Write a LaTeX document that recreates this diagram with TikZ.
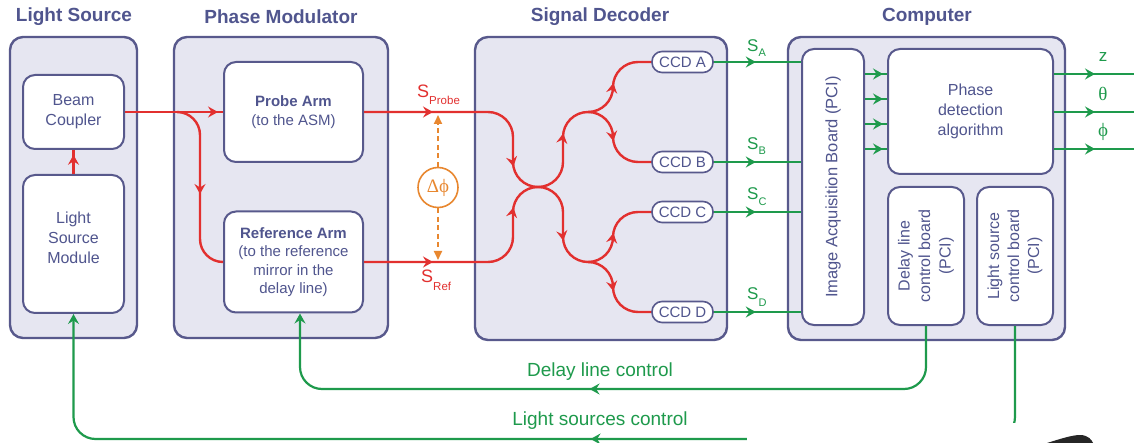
\documentclass[tikz,border=0pt]{standalone}
\usepackage{fontspec}
\setmainfont{Liberation Sans}
\newfontfamily\grserif{Liberation Serif}
\usetikzlibrary{arrows.meta,decorations.markings}
\definecolor{frame}{HTML}{58598C}
\definecolor{panel}{HTML}{E6E6F1}
\definecolor{txt}{HTML}{50558E}
\definecolor{sig}{HTML}{E2302F}
\definecolor{ctl}{HTML}{1E9A4C}
\definecolor{phs}{HTML}{E8872F}
\newcommand\setfs[2]{\fontsize{#1}{#2}\selectfont}
\tikzset{
  panelbox/.style={draw=frame, fill=panel, line width=2.4pt, rounded corners=13pt, inner sep=0pt},
  innerbox/.style={draw=frame, fill=white, line width=2pt, rounded corners=12pt, inner sep=0pt, text=txt, align=center},
  ccdbox/.style={draw=frame, fill=white, line width=1.6pt, rounded corners=10pt, inner sep=0pt, minimum width=61pt, minimum height=21pt, text=txt, font=\setfs{15}{15}},
  titletext/.style={text=txt, font=\bfseries\setfs{19}{19}},
  redline/.style={color=sig, line width=2.4pt, rounded corners=25pt},
  greenline/.style={color=ctl, line width=2.4pt},
  ctlline/.style={color=ctl, line width=2.2pt, rounded corners=22pt},
  mytip/.tip={Stealth[length=10pt,width=11pt,inset=3.5pt]},
  mk/.style={postaction={decorate, sharp corners, decoration={markings, mark=at position #1 with {\arrow{mytip}}}}},
  mktwo/.style 2 args={postaction={decorate, sharp corners, decoration={markings, mark=at position #1 with {\arrow{mytip}}, mark=at position #2 with {\arrow{mytip}}}}},
  slabel/.style={inner sep=0pt, anchor=base west, font=\setfs{18}{18}},
}
\begin{document}
\begin{tikzpicture}[x=1pt, y=-1pt]
\path[use as bounding box, fill=white] (0,0) rectangle (1134,443);

% titles
\node[titletext] (tLS) at (74,17) {Light Source};
\node[titletext] (tPM) at (281,17) {Phase Modulator};
\node[titletext] (tSD) at (600,17) {Signal Decoder};
\node[titletext] (tC) at (927,17) {Computer};

% panels
\node[panelbox, minimum width=127pt, minimum height=301pt] (LS) at (73.5,187.5) {};
\node[panelbox, minimum width=214pt, minimum height=301pt] (PM) at (281,187.5) {};
\node[panelbox, minimum width=252pt, minimum height=303pt] (SD) at (601,188.5) {};
\node[panelbox, minimum width=277pt, minimum height=303pt] (CP) at (926.5,188.5) {};

% light source
\node[innerbox, minimum width=101pt, minimum height=74pt, font=\setfs{16}{20}] (BC) at (73.5,112) {Beam\\Coupler};
\node[innerbox, minimum width=101pt, minimum height=138pt, font=\setfs{16}{20}] (LSM) at (73.5,244) {Light\\Source\\Module\\[-8pt]};

% phase modulator
\node[innerbox, minimum width=139pt, minimum height=100pt, font=\setfs{15}{19}] (PA) at (293.5,112) {\textbf{Probe Arm}\\(to the ASM)};
\node[innerbox, minimum width=139pt, minimum height=101pt, font=\setfs{15}{18.5}] (RA) at (293.5,262) {\textbf{Reference Arm}\\(to the reference\\mirror in the\\delay line)};

% CCDs
\node[ccdbox] (CCDA) at (682.5,62) {CCD A};
\node[ccdbox] (CCDB) at (682.5,162) {CCD B};
\node[ccdbox] (CCDC) at (682.5,212) {CCD C};
\node[ccdbox] (CCDD) at (682.5,312) {CCD D};

% computer
\node[innerbox, minimum width=62pt, minimum height=276pt, font=\setfs{16.5}{20}] (IAB) at (833,187) {\rotatebox{90}{Image Acquisition Board (PCI)}};
\node[innerbox, minimum width=165pt, minimum height=125pt, font=\setfs{16}{20}] (PD) at (970.5,111.5) {Phase\\detection\\algorithm};
\node[innerbox, minimum width=76pt, minimum height=138pt, font=\setfs{16}{20.5}] (DLB) at (926,256) {\rotatebox{90}{\begin{tabular}{@{}c@{}}Delay line\\control board\\(PCI)\end{tabular}}};
\node[innerbox, minimum width=76pt, minimum height=138pt, font=\setfs{16}{20}] (LSB) at (1015,256) {\rotatebox{90}{\begin{tabular}{@{}c@{}}Light source\\control board\\(PCI)\end{tabular}}};

% red optical paths
\coordinate (X) at (538,187);
\coordinate (BR) at (177,112);
\coordinate (SU) at (588,112);
\coordinate (SL) at (588,262);
\draw[redline, mk=0.8] (LSM.north) -- (BC.south);
\draw[redline, mk=93pt] (BC.east) -- (PA.west);
\draw[redline, rounded corners=23pt, mk=0.54] (BR) -- (200,112) -- (200,262) -- (RA.west);
\draw[redline, mktwo={69pt}{193pt}] (PA.east) -- (513,112) -- (513,187) -- (X);
\draw[redline, mktwo={69pt}{193pt}] (RA.east) -- (513,262) -- (513,187) -- (X);
\draw[redline, mktwo={68pt}{147pt}] (X) -- (563,187) -- (563,112) -- (613,112) -- (613,62) -- (CCDA.west);
\draw[redline, mk=43.5pt] (SU) -- (613,112) -- (613,162) -- (CCDB.west);
\draw[redline, mktwo={68pt}{147pt}] (X) -- (563,187) -- (563,262) -- (613,262) -- (613,212) -- (CCDC.west);
\draw[redline, mk=43.5pt] (SL) -- (613,262) -- (613,312) -- (CCDD.west);

% signal labels
\node[slabel, text=sig] (SPr) at (417,98) {S\raisebox{-7pt}{\setfs{11.5}{11.5}Probe}};
\node[slabel, text=sig] (SRf) at (421,283) {S\raisebox{-8pt}{\setfs{11.5}{11.5}Ref}};

% phase difference
\node[draw=phs, line width=1.6pt, circle, minimum size=40pt, inner sep=0pt, text=phs, font=\grserif\setfs{19}{19}] (DP) at (438,187.5) {Δϕ};
\coordinate (DPu) at (438,115);
\coordinate (DPd) at (438,260);
\draw[phs, line width=1.8pt, dash pattern=on 5pt off 3.5pt, -{Triangle[length=9pt,width=8pt]}] (DP.north) -- (DPu);
\draw[phs, line width=1.8pt, dash pattern=on 5pt off 3.5pt, -{Triangle[length=9pt,width=8pt]}] (DP.south) -- (DPd);

% green signals to computer
\draw[greenline, mk=42pt] (CCDA.east) -- (CCDA.east -| IAB.west);
\draw[greenline, mk=42pt] (CCDB.east) -- (CCDB.east -| IAB.west);
\draw[greenline, mk=42pt] (CCDC.east) -- (CCDC.east -| IAB.west);
\draw[greenline, mk=42pt] (CCDD.east) -- (CCDD.east -| IAB.west);
\node[slabel, text=ctl, font=\setfs{17}{17}] (SA) at (747,52) {S\raisebox{-5pt}{\setfs{11}{11}A}};
\node[slabel, text=ctl, font=\setfs{17}{17}] (SB) at (747,150) {S\raisebox{-5pt}{\setfs{11}{11}B}};
\node[slabel, text=ctl, font=\setfs{17}{17}] (SC) at (747,200) {S\raisebox{-6pt}{\setfs{11}{11}C}};
\node[slabel, text=ctl, font=\setfs{17}{17}] (SDl) at (747,300) {S\raisebox{-6pt}{\setfs{11}{11}D}};

% inside computer
\foreach \yy in {74,99,124,149}{
  \draw[greenline, mk=18pt] (IAB.east |- 0,\yy) -- (PD.west |- 0,\yy);
}
\coordinate (oz) at (1134,74);
\coordinate (ot) at (1134,112);
\coordinate (op) at (1134,149);
\draw[greenline, mk=41pt] (PD.east |- oz) -- (oz);
\draw[greenline, mk=41pt] (PD.east |- ot) -- (ot);
\draw[greenline, mk=41pt] (PD.east |- op) -- (op);
\node[text=ctl, font=\setfs{17}{17}] (lz) at (1103,57) {z};
\node[text=ctl, font=\grserif\setfs{19}{19}] (lt) at (1103,94) {θ};
\node[text=ctl, font=\grserif\setfs{19}{19}] (lp) at (1103,132) {ϕ};

% control lines
\draw[ctlline, mk=390pt, -{Stealth[length=10pt,width=11pt,inset=3.5pt]}] (DLB.south) -- (DLB.south |- 0,389) -| ([xshift=6.5pt]RA.south);
\draw[ctlline, mk=528pt, -{Stealth[length=10pt,width=11pt,inset=3.5pt]}] (LSB.south) -- (LSB.south |- 0,439) -| (LSM.south);
\node[text=ctl, font=\setfs{19}{19}] (tDL) at (600,372) {Delay line control};
\node[text=ctl, font=\setfs{19}{19}] (tLC) at (600,421) {Light sources control};

% overlay artefacts of the reference
\fill[white] (747,423) rectangle (1134,443);
\fill[black!85] (1047,443) .. controls (1060,439) and (1072,435) .. (1080,435) .. controls (1088,435) and (1092,440) .. (1093,443) -- cycle;
\end{tikzpicture}
\end{document}
